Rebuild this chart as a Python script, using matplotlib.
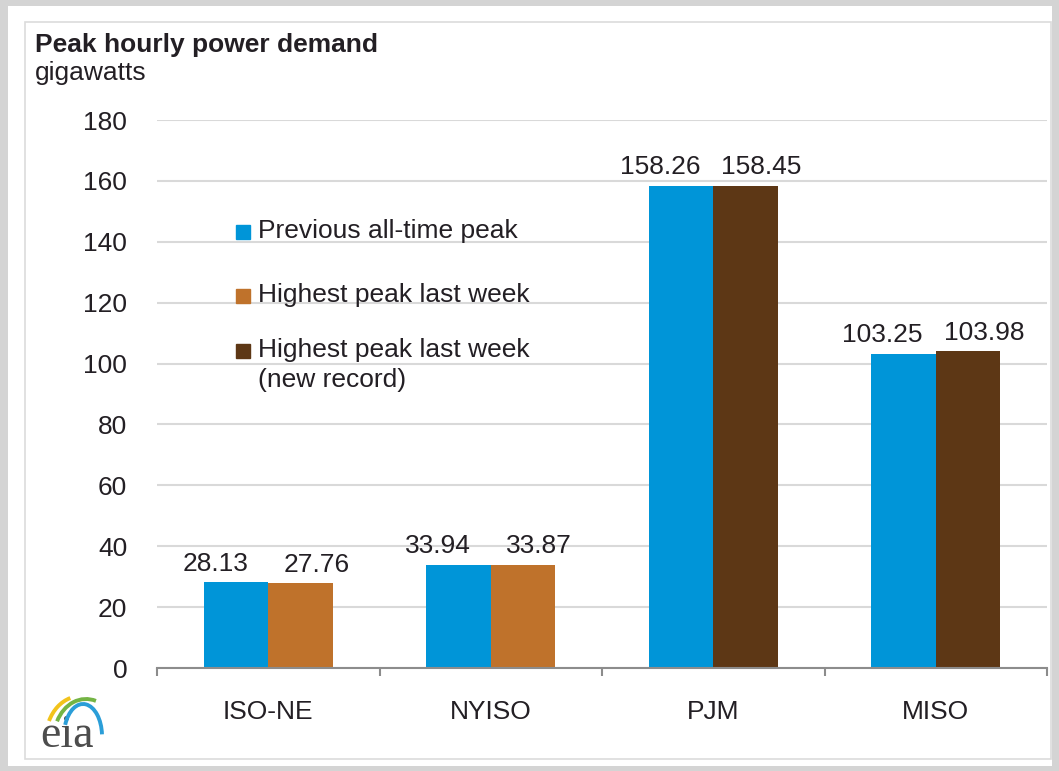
import numpy as np
import matplotlib
matplotlib.use("Agg")
import matplotlib.pyplot as plt
from matplotlib.patches import Rectangle, Arc
from matplotlib.lines import Line2D

# ---- data ----
regions = ["ISO-NE", "NYISO", "PJM", "MISO"]
previous_peak = [28.13, 33.94, 158.26, 103.25]
last_week_peak = [27.76, 33.87, 158.45, 103.98]
new_record = [False, False, True, True]
series_names = ["Previous all-time peak", "Highest peak last week",
                "Highest peak last week\n(new record)"]
yticks = [0, 20, 40, 60, 80, 100, 120, 140, 160, 180]

title = "Peak hourly power demand"
unit = "gigawatts"

# ---- style ----
W, H = 1059, 771
C_BLUE = "#0095d8"
C_ORANGE = "#bf722b"
C_BROWN = "#5d3715"
C_TEXT = "#231f24"
FONT = "Liberation Sans"
FS = 19

plt.rcParams["font.family"] = [FONT, "DejaVu Sans"]

fig = plt.figure(figsize=(W / 100, H / 100), dpi=100)
fig.patch.set_facecolor("#d4d4d4")


def fx(px):
    return px / W


def fy(py):
    return 1 - py / H


# background panels
fig.patches.append(Rectangle((fx(8), fy(766)), fx(1052) - fx(8), fy(6) - fy(766),
                             transform=fig.transFigure, facecolor="white",
                             edgecolor="none", zorder=-5))
fig.patches.append(Rectangle((fx(25), fy(759)), fx(1051) - fx(25), fy(22) - fy(759),
                             transform=fig.transFigure, facecolor="white",
                             edgecolor="#dcdcdc", lw=1.2, zorder=-4))

ax = fig.add_axes([fx(157), fy(668), fx(1047) - fx(157), fy(120) - fy(668)])
ax.set_facecolor("none")
ax.set_zorder(1)

x = np.arange(len(regions))
w = 0.29
second_colors = [C_BROWN if r else C_ORANGE for r in new_record]
b1 = ax.bar(x - w / 2, previous_peak, width=w, color=C_BLUE, zorder=3)
b2 = ax.bar(x + w / 2, last_week_peak, width=w, color=second_colors, zorder=3)

for xi, v in zip(x - w / 2, previous_peak):
    ax.annotate(f"{v:.2f}", (xi, v), xytext=(-15, 8.5), textcoords="offset points",
                ha="center", va="baseline", fontsize=FS, color=C_TEXT)
for xi, v in zip(x + w / 2, last_week_peak):
    ax.annotate(f"{v:.2f}", (xi, v), xytext=(11.5, 8.5), textcoords="offset points",
                ha="center", va="baseline", fontsize=FS, color=C_TEXT)

ax.set_xlim(-0.5, len(regions) - 0.5)
ax.set_ylim(0, 180)
ax.set_yticks(yticks)
ax.set_yticklabels([str(t) for t in yticks], fontsize=FS, color=C_TEXT)
ax.tick_params(axis="y", length=0, pad=21.5)
ax.yaxis.grid(True, color="#d9d9d9", lw=1.5, zorder=0)
ax.set_axisbelow(True)

ax.set_xticks(x)
ax.set_xticklabels(regions, fontsize=FS, color=C_TEXT)
ax.set_xticks(np.arange(len(regions) + 1) - 0.5, minor=True)
ax.tick_params(axis="x", which="major", length=0, pad=23)
ax.tick_params(axis="x", which="minor", length=5.5, width=1.5, color="#8c8c8c",
               direction="out")

for s in ["top", "right", "left"]:
    ax.spines[s].set_visible(False)
ax.spines["bottom"].set_color("#8c8c8c")
ax.spines["bottom"].set_linewidth(1.5)
ax.spines["bottom"].set_zorder(4)

# title
fig.text(fx(35), fy(52), title, fontsize=FS, fontweight="bold", color=C_TEXT,
         ha="left", va="baseline")
fig.text(fx(35), fy(80), unit, fontsize=FS, color=C_TEXT, ha="left", va="baseline")

# legend (manual)
leg_colors = [C_BLUE, C_ORANGE, C_BROWN]
leg_base = [238, 302, 357]
for name, col, yb in zip(series_names, leg_colors, leg_base):
    fig.add_artist(Line2D([fx(243)], [fy(yb - 6)], marker="s", markersize=9.5,
                          color=col, lw=0, transform=fig.transFigure))
    for k, line in enumerate(name.split("\n")):
        fig.text(fx(258), fy(yb + 30 * k), line, fontsize=FS, color=C_TEXT,
                 ha="left", va="baseline")

# eia logo (data units = pixels relative to logo box)
lx0, lx1, ly0, ly1 = 34, 110, 690, 754
lax = fig.add_axes([fx(lx0), fy(ly1), fx(lx1) - fx(lx0), fy(ly0) - fy(ly1)])
lax.set_xlim(0, lx1 - lx0)
lax.set_ylim(0, ly1 - ly0)
lax.axis("off")
lax.text(6, 7, "eia", fontsize=33, family="Liberation Serif", color="#4d4d4d",
         ha="left", va="baseline", zorder=2)
lax.add_patch(Arc((47, 16), 70, 84, theta1=105, theta2=152, color="#f2c31c",
                  lw=2.8, zorder=3))
lax.add_patch(Arc((52, 16), 64, 78, theta1=75, theta2=150, color="#74b444",
                  lw=2.8, zorder=3))
lax.add_patch(Arc((49, 18), 38, 64, theta1=5, theta2=148, color="#2b9ed8",
                  lw=2.8, zorder=3))

fig.savefig("out.png", dpi=100, facecolor=fig.get_facecolor())
